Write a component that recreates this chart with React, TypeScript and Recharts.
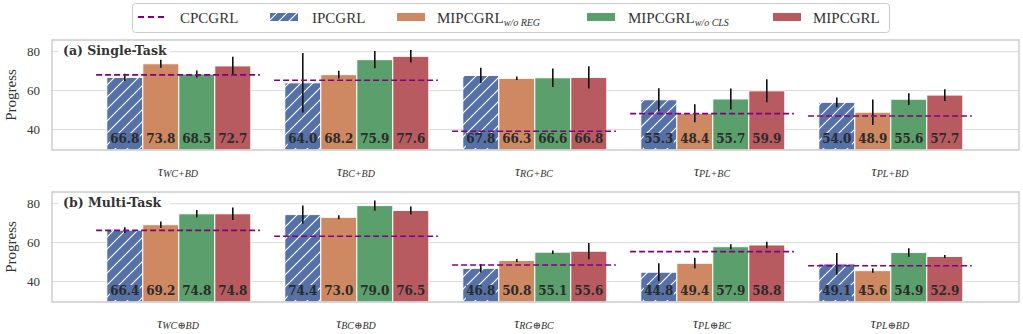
import React from "react";
import { ComposedChart, Bar, Line, XAxis, YAxis, CartesianGrid, ErrorBar, LabelList } from "recharts";

// task names per panel
const singleTasks = ["WC+BD", "BC+BD", "RG+BC", "PL+BC", "PL+BD"];
const multiTasks = ["WC⊕BD", "BC⊕BD", "RG⊕BC", "PL⊕BC", "PL⊕BD"];

// (a) single-task progress, means and std
const singleCpc = [68.1, 65.3, 39.1, 48.2, 47.0];
const singleIpc = [66.8, 64.0, 67.8, 55.3, 54.0];
const singleIpcErr = [1.9, 15.3, 4.0, 5.9, 2.5];
const singleNoReg = [73.8, 68.2, 66.3, 48.4, 48.9];
const singleNoRegErr = [2.0, 2.0, 0.9, 4.6, 6.6];
const singleNoCls = [68.5, 75.9, 66.6, 55.7, 55.6];
const singleNoClsErr = [1.8, 4.4, 4.8, 5.4, 3.0];
const singleMip = [72.7, 77.6, 66.8, 59.9, 57.7];
const singleMipErr = [4.7, 3.2, 5.7, 5.9, 3.0];

// (b) multi-task progress, means and std
const multiCpc = [66.3, 63.3, 48.5, 55.4, 48.1];
const multiIpc = [66.4, 74.4, 46.8, 44.8, 49.1];
const multiIpcErr = [1.5, 4.7, 2.1, 4.6, 5.6];
const multiNoReg = [69.2, 73.0, 50.8, 49.4, 45.6];
const multiNoRegErr = [1.7, 1.0, 0.8, 2.7, 1.1];
const multiNoCls = [74.8, 79.0, 55.1, 57.9, 54.9];
const multiNoClsErr = [1.9, 2.6, 0.9, 1.3, 2.2];
const multiMip = [74.8, 76.5, 55.6, 58.8, 52.9];
const multiMipErr = [3.2, 2.0, 4.2, 1.7, 0.8];

const yTicks = [40, 60, 80];

const BLUE = "#5571a6";
const ORANGE = "#ce8862";
const GREEN = "#5b9f6c";
const RED = "#b85b60";
const PURPLE = "#800080";

const W = 1023;
const PLOT_LEFT = 52;
const PLOT_RIGHT = 1019;
const PAD_L = 37;
const PAD_R = 40;
const BAND = (PLOT_RIGHT - PLOT_LEFT - PAD_L - PAD_R) / 5;

const SERIF = "'Liberation Serif', 'DejaVu Serif', serif";
const BOLD_SERIF = "'DejaVu Serif', serif";

const buildRows = (
  tasks: string[], cpc: number[], ipc: number[], ipcErr: number[],
  noReg: number[], noRegErr: number[], noCls: number[], noClsErr: number[],
  mip: number[], mipErr: number[]
) =>
  tasks.map((task, i) => ({
    task,
    cpc: cpc[i],
    ipc: ipc[i], ipcErr: ipcErr[i],
    noReg: noReg[i], noRegErr: noRegErr[i],
    noCls: noCls[i], noClsErr: noClsErr[i],
    mip: mip[i], mipErr: mipErr[i],
  }));

const singleRows = buildRows(singleTasks, singleCpc, singleIpc, singleIpcErr, singleNoReg, singleNoRegErr,
  singleNoCls, singleNoClsErr, singleMip, singleMipErr);
const multiRows = buildRows(multiTasks, multiCpc, multiIpc, multiIpcErr, multiNoReg, multiNoRegErr,
  multiNoCls, multiNoClsErr, multiMip, multiMipErr);

// value printed at the foot of each bar on a patch of the bar colour
const valueLabel = (color: string) => (p: any) => {
  const box = p.viewBox && p.viewBox.width != null ? p.viewBox : p;
  const { x, y, width, height } = box;
  const cx = x + width / 2;
  const bottom = y + height;
  return (
    <g>
      <rect x={cx - 15} y={bottom - 17} width={30} height={15} fill={color} />
      <text x={cx} y={bottom - 7} textAnchor="middle" fontFamily={BOLD_SERIF} fontWeight="bold"
        fontSize={12} fill="#2b2b2b">
        {Number(p.value).toFixed(1)}
      </text>
    </g>
  );
};

// CPCGRL baseline: dashed segment spanning the whole group
const baselineDot = (p: any) => {
  const half = BAND * 0.46;
  return (
    <line key={`cpc-${p.index}`} x1={p.cx - half} x2={p.cx + half} y1={p.cy} y2={p.cy}
      stroke={PURPLE} strokeWidth={1.6} strokeDasharray="6 3" />
  );
};

const TaskTick = ({ x, y, payload }: any) => (
  <text x={x} y={y + 24} textAnchor="middle" fontFamily={SERIF} fontStyle="italic" fill="#333">
    <tspan fontSize={14}>τ</tspan>
    <tspan fontSize={10} dy={1}>{payload.value}</tspan>
  </text>
);

const Panel = ({ rows, top }: { rows: any[]; top: number }) => (
  <div style={{ position: "absolute", left: 0, top }}>
    <ComposedChart width={W} height={180} data={rows}
      margin={{ top: 40, right: W - PLOT_RIGHT, bottom: 0, left: 12 }}
      barCategoryGap="10%" barGap={0}>
      <CartesianGrid vertical={false} stroke="#dadada" strokeWidth={1} />
      <XAxis dataKey="task" padding={{ left: PAD_L, right: PAD_R }} tickLine={false} axisLine={false}
        tickSize={0} interval={0} height={30} tick={<TaskTick />} />
      <YAxis domain={[29.5, 86]} ticks={yTicks} allowDataOverflow tickLine={false} axisLine={false}
        tickSize={0} tickMargin={12} width={40}
        tick={{ fontFamily: SERIF, fontSize: 13, fill: "#333" }} />
      <Bar dataKey="ipc" fill="url(#ipc-hatch)" stroke="#fff" strokeWidth={1} isAnimationActive={false}>
        <ErrorBar dataKey="ipcErr" width={0} stroke="#111" strokeWidth={1.6} />
        <LabelList dataKey="ipc" content={valueLabel(BLUE)} />
      </Bar>
      <Bar dataKey="noReg" fill={ORANGE} stroke="#fff" strokeWidth={1} isAnimationActive={false}>
        <ErrorBar dataKey="noRegErr" width={0} stroke="#111" strokeWidth={1.6} />
        <LabelList dataKey="noReg" content={valueLabel(ORANGE)} />
      </Bar>
      <Bar dataKey="noCls" fill={GREEN} stroke="#fff" strokeWidth={1} isAnimationActive={false}>
        <ErrorBar dataKey="noClsErr" width={0} stroke="#111" strokeWidth={1.6} />
        <LabelList dataKey="noCls" content={valueLabel(GREEN)} />
      </Bar>
      <Bar dataKey="mip" fill={RED} stroke="#fff" strokeWidth={1} isAnimationActive={false}>
        <ErrorBar dataKey="mipErr" width={0} stroke="#111" strokeWidth={1.6} />
        <LabelList dataKey="mip" content={valueLabel(RED)} />
      </Bar>
      <Line dataKey="cpc" stroke="none" dot={baselineDot} activeDot={false} isAnimationActive={false} />
    </ComposedChart>
  </div>
);

const LegendPatch = ({ x, fill }: { x: number; fill: string }) => (
  <rect x={x} y={13} width={28} height={8} fill={fill} />
);

const Overlay = () => (
  <svg width={W} height={334} style={{ position: "absolute", left: 0, top: 0, pointerEvents: "none" }}>
    {/* plot frames */}
    <rect x={PLOT_LEFT} y={40} width={PLOT_RIGHT - PLOT_LEFT} height={110} fill="none" stroke="#cfcfcf" strokeWidth={1.5} />
    <rect x={PLOT_LEFT} y={192} width={PLOT_RIGHT - PLOT_LEFT} height={110} fill="none" stroke="#cfcfcf" strokeWidth={1.5} />

    {/* panel titles */}
    <rect x={58} y={43} width={112} height={15} fill="#fff" />
    <text x={63} y={55} fontFamily={BOLD_SERIF} fontWeight="bold" fontSize={12.5} fill="#333">(a) Single-Task</text>
    <rect x={58} y={195} width={112} height={15} fill="#fff" />
    <text x={63} y={207} fontFamily={BOLD_SERIF} fontWeight="bold" fontSize={12.5} fill="#333">(b) Multi-Task</text>

    {/* y labels */}
    <text transform="translate(16,95) rotate(-90)" textAnchor="middle" fontFamily={SERIF} fontSize={15} fill="#333">Progress</text>
    <text transform="translate(16,247) rotate(-90)" textAnchor="middle" fontFamily={SERIF} fontSize={15} fill="#333">Progress</text>

    {/* legend */}
    <rect x={132.5} y={3.5} width={757} height={29} rx={3} fill="#fff" stroke="#cccccc" strokeWidth={1} />
    <line x1={138} x2={168} y1={17} y2={17} stroke={PURPLE} strokeWidth={2} strokeDasharray="6 4" />
    <text x={180} y={22.5} fontFamily={SERIF} fontSize={15} fill="#333">CPCGRL</text>
    <LegendPatch x={270} fill="url(#ipc-hatch-legend)" />
    <text x={312} y={22.5} fontFamily={SERIF} fontSize={15} fill="#333">IPCGRL</text>
    <LegendPatch x={397} fill={ORANGE} />
    <text x={437} y={22.5} fontFamily={SERIF} fontSize={15} fill="#333">
      MIPCGRL<tspan fontSize={10} fontStyle="italic" dy={3}>w/o REG</tspan>
    </text>
    <LegendPatch x={587} fill={GREEN} />
    <text x={628} y={22.5} fontFamily={SERIF} fontSize={15} fill="#333">
      MIPCGRL<tspan fontSize={10} fontStyle="italic" dy={3}>w/o CLS</tspan>
    </text>
    <LegendPatch x={773} fill={RED} />
    <text x={813} y={22.5} fontFamily={SERIF} fontSize={15} fill="#333">MIPCGRL</text>
  </svg>
);

const App = () => (
  <div style={{ position: "absolute", left: 0, top: 0, width: W, height: 334, background: "#fff" }}>
    <svg width={0} height={0} style={{ position: "absolute" }}>
      <defs>
        <pattern id="ipc-hatch" patternUnits="userSpaceOnUse" width={12} height={12}>
          <rect width={12} height={12} fill={BLUE} />
          <path d="M-3,3 l6,-6 M0,12 l12,-12 M9,15 l6,-6" stroke="#fff" strokeWidth={1.2} />
        </pattern>
        <pattern id="ipc-hatch-legend" patternUnits="userSpaceOnUse" width={10} height={10}>
          <rect width={10} height={10} fill={BLUE} />
          <path d="M-3,3 l6,-6 M0,10 l10,-10 M7,13 l6,-6" stroke="#fff" strokeWidth={1.2} />
        </pattern>
      </defs>
    </svg>
    <Panel rows={singleRows} top={0} />
    <Panel rows={multiRows} top={152} />
    <Overlay />
  </div>
);

export default App;
